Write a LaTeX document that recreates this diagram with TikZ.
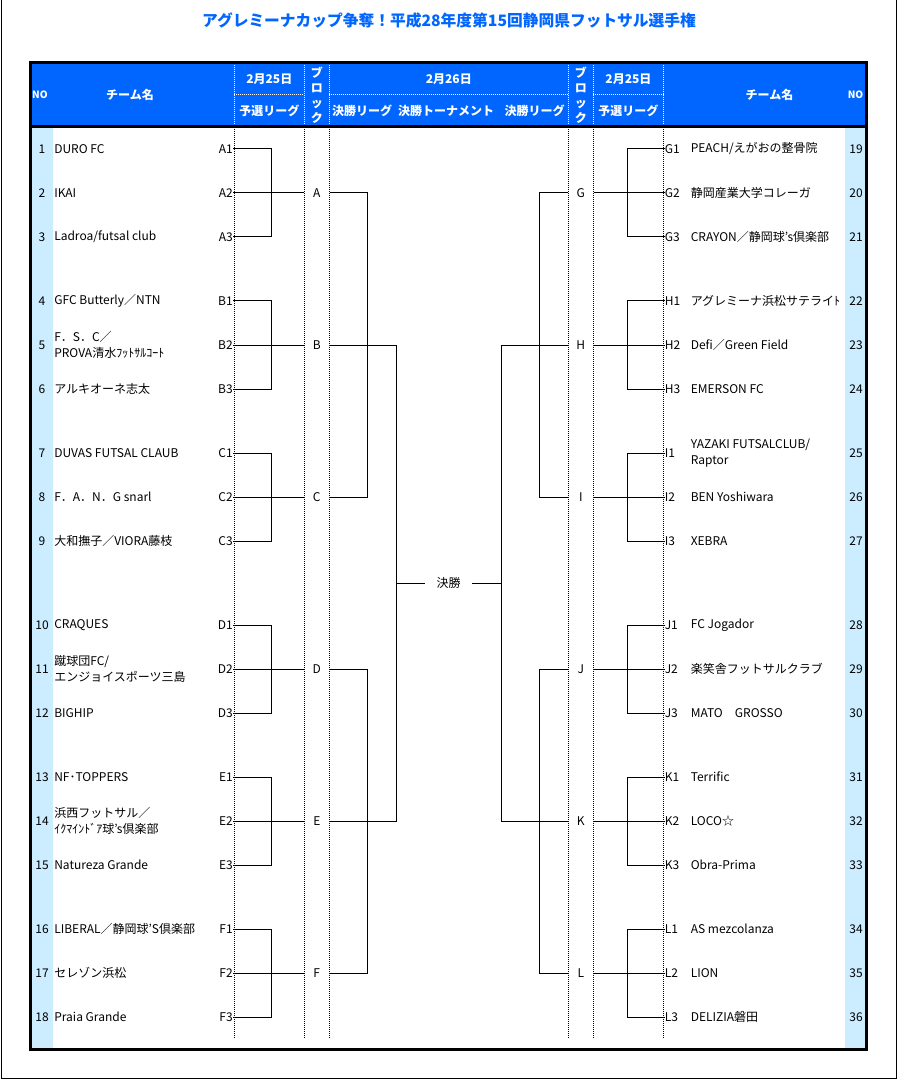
\documentclass[tikz,border=0pt]{standalone}
\usepackage{fontspec}
\setmainfont{Noto Sans CJK JP}
\usetikzlibrary{positioning}
\definecolor{hdblue}{RGB}{0,102,255}
\definecolor{noblue}{RGB}{204,236,255}
\tikzset{
  txt/.style={inner sep=0pt, font=\fontsize{9}{12}\selectfont},
  tm/.style={txt, anchor=west, align=left},
  hd/.style={inner sep=0pt, text=white, font=\fontsize{9}{11.25}\selectfont\bfseries},
  blk/.style={txt, minimum width=18.75pt},
  colsep/.style={line width=0.75pt, dash pattern=on 0.75pt off 0.75pt},
  brk/.style={line width=0.75pt},
}
\begin{document}
\begin{tikzpicture}[x=0.75pt, y=-0.75pt]
  \useasboundingbox (0,0) rectangle (898,1080);
  \draw[line width=0.75pt] (1,0) -- (1,1078) -- (896,1078) -- (896,0);
  \node[font=\fontsize{11.8}{14}\selectfont\bfseries, text=hdblue] (title) at (449,20)
    {アグレミーナカップ争奪！平成28年度第15回静岡県フットサル選手権};

  \fill[hdblue] (30,63) rectangle (866,127);
  \fill[noblue] (31,127) rectangle (53,1049);
  \fill[noblue] (845,127) rectangle (866,1049);
  \foreach \x in {234.3,304.3,329.3,568.3,593.3,663.5} {
    \draw[colsep, white] (\x,63) -- (\x,127);
    \draw[colsep] (\x,127) -- (\x,1038);
  }
  \foreach \a/\b in {234.3/304.3, 329.3/568.3, 593.3/663.5}
    \draw[colsep, white] (\a,95) -- (\b,95);
  \draw[line width=2.25pt] (30,63) rectangle (866,1049) (30,127) -- (866,127);

  \node[hd, font=\fontsize{7.5}{9}\selectfont\bfseries] (noL) at (40,95) {NO};
  \node[hd] (teamL) at (130,95) {チーム名};
  \node[hd] (dayL) at (269.3,79.5) {2月25日};
  \node[hd] (preL) at (269.3,111) {予選リーグ};
  \node[hd, align=center] (blkL) at (316.8,95) {ブ\\ロ\\ッ\\ク};
  \node[hd] (dayM) at (448.8,79.5) {2月26日};
  \node[hd] (finL) at (362,111) {決勝リーグ};
  \node[hd] (finT) at (446,111) {決勝トーナメント};
  \node[hd] (finR) at (534.5,111) {決勝リーグ};
  \node[hd, align=center] (blkR) at (580.8,95) {ブ\\ロ\\ッ\\ク};
  \node[hd] (dayR) at (628.4,79.5) {2月25日};
  \node[hd] (preR) at (628.4,111) {予選リーグ};
  \node[hd] (teamR) at (769.5,95) {チーム名};
  \node[hd, font=\fontsize{7.5}{9}\selectfont\bfseries] (noR) at (855.5,95) {NO};

  \foreach \grp/\y in {A/149,B/301,C/453,D/625,E/777,F/929} {
    \foreach \k in {1,2,3}
      \node[txt, anchor=east] (\grp\k) at (233,\y+44*\k-44) {\grp\k};
    \node[blk] (\grp) at (316.8,\y+44) {\grp};
    \draw[brk] (\grp1.east) -- ++(38.5,0) |- (\grp3.east);
    \draw[brk] (\grp2.east) -- (\grp.west);
  }
  \foreach \grp/\y in {G/149,H/301,I/453,J/625,K/777,L/929} {
    \foreach \k in {1,2,3}
      \node[txt, anchor=west] (\grp\k) at (664.5,\y+44*\k-44) {\grp\k};
    \node[blk] (\grp) at (580.8,\y+44) {\grp};
    \draw[brk] (\grp1.west) -- ++(-37.5,0) |- (\grp3.west);
    \draw[brk] (\grp2.west) -- (\grp.east);
  }

  \node[txt, minimum width=35.25pt] (fin) at (448.5,583) {決勝};
  \draw[brk] (A.east) -- ++(38,0) |- (C.east);
  \draw[brk] (D.east) -- ++(38,0) |- (F.east);
  \draw[brk] (B.east) -- ++(66.5,0) coordinate (bl) |- (E.east);
  \draw[brk] (G.west) -- ++(-29,0) |- (I.west);
  \draw[brk] (J.west) -- ++(-29,0) |- (L.west);
  \draw[brk] (H.west) -- ++(-66.5,0) coordinate (brt) |- (K.west);
  \draw[brk] (fin.west) -- (fin.west -| bl);
  \draw[brk] (fin.east) -- (fin.east -| brt);

  \foreach \n/\l/\t in {1/A1/DURO FC, 2/A2/IKAI, 3/A3/{Ladroa/futsal club},
      4/B1/GFC Butterly／NTN, 5/B2/{F．S．C／\\PROVA清水ﾌｯﾄｻﾙｺｰﾄ}, 6/B3/アルキオーネ志太,
      7/C1/DUVAS FUTSAL CLAUB, 8/C2/F．A．N．G snarl, 9/C3/大和撫子／VIORA藤枝,
      10/D1/CRAQUES, 11/D2/{蹴球団FC/\\エンジョイスポーツ三島}, 12/D3/BIGHIP,
      13/E1/NF･TOPPERS, 14/E2/{浜西フットサル／\\ｲｸﾏｲﾝﾄﾞｱ球’s倶楽部}, 15/E3/Natureza Grande,
      16/F1/LIBERAL／静岡球’S倶楽部, 17/F2/セレゾン浜松, 18/F3/Praia Grande} {
    \node[txt] (n\n) at (\l -| 42,0) {\n};
    \node[tm] (t\n) at (\l -| 54,0) {\t};
  }
  \foreach \n/\l/\t in {19/G1/{PEACH/えがおの整骨院}, 20/G2/静岡産業大学コレーガ,
      21/G3/CRAYON／静岡球’s倶楽部, 22/H1/アグレミーナ浜松サテライﾄ,
      23/H2/Defi／Green Field, 24/H3/EMERSON FC, 25/I1/{YAZAKI FUTSALCLUB/\\Raptor},
      26/I2/BEN Yoshiwara, 27/I3/XEBRA, 28/J1/FC Jogador, 29/J2/楽笑舎フットサルクラブ,
      30/J3/MATO　GROSSO, 31/K1/Terrific, 32/K2/LOCO☆, 33/K3/Obra-Prima,
      34/L1/AS mezcolanza, 35/L2/LION, 36/L3/DELIZIA磐田} {
    \node[txt] (n\n) at (\l -| 856,0) {\n};
    \node[tm] (t\n) at (\l -| 690.5,0) {\t};
  }
\end{tikzpicture}
\end{document}
